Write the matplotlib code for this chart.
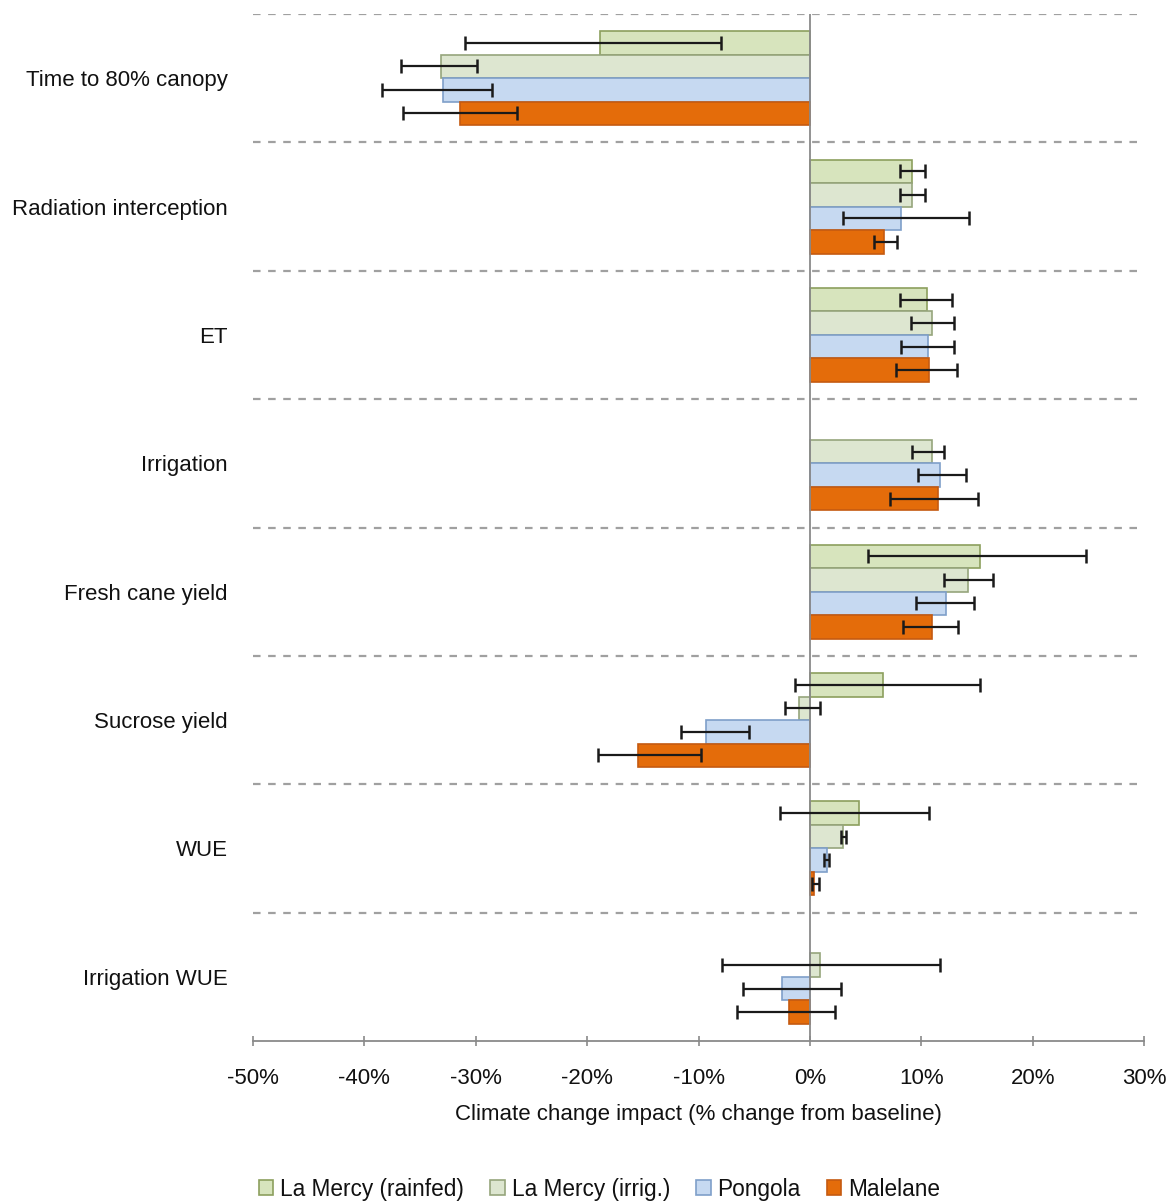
import numpy as np
import matplotlib
matplotlib.use("Agg")
import matplotlib.pyplot as plt
from matplotlib.patches import Patch
from matplotlib.ticker import FuncFormatter

plt.rcParams['font.family'] = ['Liberation Sans', 'DejaVu Sans']

categories = ["Time to 80% canopy", "Radiation interception", "ET", "Irrigation",
              "Fresh cane yield", "Sucrose yield", "WUE", "Irrigation WUE"]
series_names = ["La Mercy (rainfed)", "La Mercy (irrig.)", "Pongola", "Malelane"]
nan = np.nan

# bar values (%)
rainfed = [-18.8, 9.2, 10.5, nan, 15.3, 6.6, 4.4, nan]
irrig = [-33.1, 9.2, 11.0, 11.0, 14.2, -1.0, 3.0, 0.9]
pongola = [-32.9, 8.2, 10.6, 11.7, 12.2, -9.3, 1.5, -2.5]
malelane = [-31.4, 6.7, 10.7, 11.5, 11.0, -15.4, 0.4, -1.9]

# error bar ends (low, high) in %
rainfed_lo = [-31.0, 8.1, 8.1, nan, 5.2, -1.3, -2.7, nan]
rainfed_hi = [-8.0, 10.3, 12.8, nan, 24.8, 15.3, 10.7, nan]
irrig_lo = [-36.7, 8.1, 9.1, 9.2, 12.0, -2.2, 2.8, -7.9]
irrig_hi = [-29.9, 10.3, 12.9, 12.0, 16.4, 0.9, 3.2, 11.7]
pongola_lo = [-38.4, 3.0, 8.2, 9.7, 9.5, -11.6, 1.3, -6.0]
pongola_hi = [-28.5, 14.3, 12.9, 14.0, 14.7, -5.5, 1.7, 2.8]
malelane_lo = [-36.5, 5.8, 7.7, 7.2, 8.4, -19.0, 0.2, -6.5]
malelane_hi = [-26.3, 7.8, 13.2, 15.1, 13.3, -9.8, 0.8, 2.3]

xticks = [-50, -40, -30, -20, -10, 0, 10, 20, 30]

fills = ["#d7e4bd", "#dde6d0", "#c6d9f1", "#e46c0a"]
edges = ["#8c9f5e", "#96a57c", "#7f9fc9", "#c55a11"]

values = [rainfed, irrig, pongola, malelane]
los = [rainfed_lo, irrig_lo, pongola_lo, malelane_lo]
his = [rainfed_hi, irrig_hi, pongola_hi, malelane_hi]

fig = plt.figure(figsize=(11.73, 12.02), dpi=100)
ax = fig.add_axes([253/1173, 1 - 1041/1202, (1144-253)/1173, (1041-14)/1202])

n = len(categories)
h = 0.183
centers = np.arange(n) + 0.5
for k in range(4):
    v = np.array(values[k], dtype=float)
    lo = np.array(los[k], dtype=float)
    hi = np.array(his[k], dtype=float)
    y = centers + (k - 1.5) * h
    ax.barh(y, v, height=h, color=fills[k], edgecolor=edges[k], linewidth=1.2, zorder=2)
    xerr = np.vstack([v - lo, hi - v])
    ax.errorbar(v, y, xerr=xerr, fmt='none', ecolor='#1a1a1a', elinewidth=1.6,
                capsize=5, capthick=1.8, zorder=4)

for b in range(n):
    ax.axhline(b, color='#a0a0a0', lw=1.6, ls=(0, (3.4, 3.4)), zorder=1)
ax.axvline(0, color='#8a8a8a', lw=1.3, zorder=3)

ax.set_xlim(-50, 30)
ax.set_ylim(n, 0)
ax.set_xticks(xticks)
ax.xaxis.set_major_formatter(FuncFormatter(lambda x, p: f"{int(round(x))}%"))
ax.set_yticks(centers)
ax.set_yticklabels(categories)
ax.tick_params(axis='y', length=0, pad=18, labelsize=16, labelcolor='#111111')
ax.tick_params(axis='x', direction='inout', length=7, width=1.2, color='#8a8a8a',
               labelsize=16, labelcolor='#111111', pad=16)
for s in ['top', 'right', 'left']:
    ax.spines[s].set_visible(False)
ax.spines['bottom'].set_color('#8a8a8a')
ax.spines['bottom'].set_linewidth(1.3)
ax.set_xlabel("Climate change impact (% change from baseline)", fontsize=16,
              color='#111111', labelpad=11)

handles = [Patch(facecolor=fills[k], edgecolor=edges[k], linewidth=1.2) for k in range(4)]
fig.legend(handles, series_names, loc='lower center', bbox_to_anchor=(0.511, -0.016),
           ncol=4, frameon=False, fontsize=16.3, handlelength=0.65, handleheight=0.65,
           handletextpad=0.3, columnspacing=1.15, labelcolor='#111111')

fig.savefig("out.png", dpi=100, facecolor='white')
